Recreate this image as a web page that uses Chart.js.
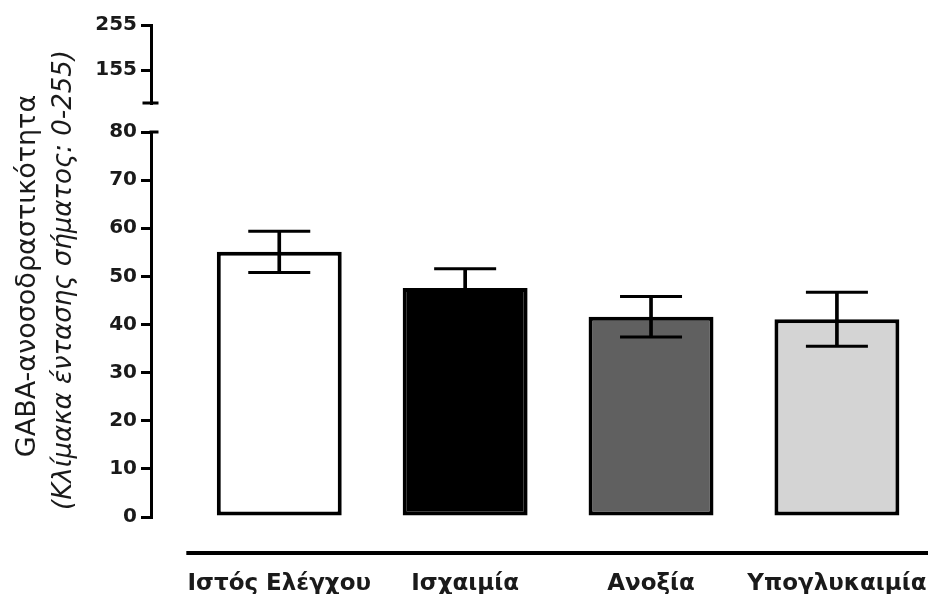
<!DOCTYPE html>
<html>
<head>
<meta charset="utf-8">
<script src="https://cdn.jsdelivr.net/npm/chart.js@4"></script>
<style>
  body { margin: 0; background: #fff; }
  #wrap { position: relative; width: 928px; height: 594px; }
  .ytitle {
    position: absolute; width: 560px; height: 32px; line-height: 32px;
    text-align: center; white-space: nowrap; transform: rotate(-90deg);
    font-family: 'DejaVu Sans'; font-size: 26px; color: #1a1a1a;
  }
</style>
</head>
<body>
<div id="wrap">
  <canvas id="chart" width="928" height="594"></canvas>
  <div class="ytitle" style="left: -254px; top: 260px; font-size: 27px;">GABA-ανοσοδραστικότητα</div>
  <div class="ytitle" style="left: -218px; top: 264px; font-style: italic;">(Κλίμακα έντασης σήματος: 0-255)</div>
</div>
<script>
// values (mean and SEM)
const categories = ['Ιστός Ελέγχου', 'Ισχαιμία', 'Ανοξία', 'Υπογλυκαιμία']
const means = [55.1, 47.6, 41.6, 41.1]
const sem = [4.3, 4.0, 4.2, 5.6]
const lowerTicks = [0, 10, 20, 30, 40, 50, 60, 70, 80]
const upperTicks = [155, 255]

const barColors = ['#ffffff', '#000000', '#606060', '#d4d4d4']
const ink = '#000000'
const tickFont = { family: 'DejaVu Sans', weight: 'bold', size: 20 }

// break marks on the y axis and the detached x axis line
const axisDecor = {
    id: 'axisDecor',
    afterDraw(chart) {
        const { ctx, chartArea, scales } = chart
        const ax = chartArea.left - 1.5
        ctx.save()
        ctx.strokeStyle = ink
        ctx.lineWidth = 3
        ctx.beginPath()
        ctx.moveTo(ax - 7, scales.yTop.bottom)
        ctx.lineTo(ax + 9, scales.yTop.bottom)
        ctx.moveTo(ax, scales.y.top)
        ctx.lineTo(ax + 9, scales.y.top)
        ctx.stroke()
        ctx.lineWidth = 4
        ctx.beginPath()
        ctx.moveTo(scales.x.getPixelForValue(-0.5), chartArea.bottom)
        ctx.lineTo(chartArea.right, chartArea.bottom)
        ctx.stroke()
        ctx.restore()
    }
}

const yAxisCommon = {
    type: 'linear',
    position: 'left',
    stack: 'v',
    grid: { drawOnChartArea: false, tickLength: 10, lineWidth: 3, color: ink },
    border: { color: ink, width: 3 },
    ticks: { autoSkip: false, padding: 4, color: '#1a1a1a', font: tickFont },
    afterFit: s => { s.width = 60 }
}

const capStyle = {
    type: 'line',
    showLine: false,
    pointStyle: 'line',
    pointRadius: 31,
    pointHoverRadius: 31,
    pointBorderWidth: 3,
    pointBorderColor: ink,
    xAxisID: 'x',
    yAxisID: 'y',
    order: 1
}

new Chart(document.getElementById('chart'), {
    type: 'bar',
    data: {
        datasets: [
            { ...capStyle, data: means.map((v, i) => ({ x: i, y: v + sem[i] })) },
            { ...capStyle, data: means.map((v, i) => ({ x: i, y: v - sem[i] })) },
            {
                data: means.map((v, i) => ({ x: i, y: [v - sem[i], v + sem[i]] })),
                backgroundColor: ink,
                barThickness: 3,
                grouped: false,
                xAxisID: 'x',
                yAxisID: 'y',
                order: 2
            },
            {
                data: means.map((v, i) => ({ x: i, y: v })),
                backgroundColor: barColors,
                borderColor: ink,
                borderWidth: 4,
                borderSkipped: false,
                barPercentage: 0.672,
                categoryPercentage: 1,
                grouped: false,
                xAxisID: 'x',
                yAxisID: 'y',
                order: 3
            }
        ]
    },
    options: {
        responsive: false,
        animation: false,
        layout: { autoPadding: false, padding: { left: 91, top: 25, right: 0, bottom: 0 } },
        plugins: { legend: { display: false }, tooltip: { enabled: false } },
        scales: {
            x: {
                type: 'linear',
                offset: false,
                min: -0.69,
                max: 3.49,
                grid: { display: false },
                border: { display: false },
                afterBuildTicks: s => { s.ticks = categories.map((c, i) => ({ value: i })) },
                afterFit: s => { s.height = 41; s.paddingLeft = 0; s.paddingRight = 0 },
                ticks: {
                    autoSkip: false,
                    maxRotation: 0,
                    padding: 9,
                    color: '#1a1a1a',
                    font: { family: 'DejaVu Sans', weight: 'bold', size: 23 },
                    callback: v => categories[v]
                }
            },
            yTop: {
                ...yAxisCommon,
                weight: 4,
                stackWeight: 78,
                min: 82,
                max: 255,
                afterBuildTicks: s => { s.ticks = upperTicks.map(v => ({ value: v })) }
            },
            yGap: { type: 'linear', display: false, position: 'left', stack: 'v', weight: 3, stackWeight: 29, min: 0, max: 1 },
            y: {
                ...yAxisCommon,
                weight: 2,
                stackWeight: 385,
                min: 0,
                max: 80,
                afterBuildTicks: s => { s.ticks = lowerTicks.map(v => ({ value: v })) }
            },
            yPad: { type: 'linear', display: false, position: 'left', stack: 'v', weight: 1, stackWeight: 36, min: 0, max: 1 }
        }
    },
    plugins: [axisDecor]
})
</script>
</body>
</html>
